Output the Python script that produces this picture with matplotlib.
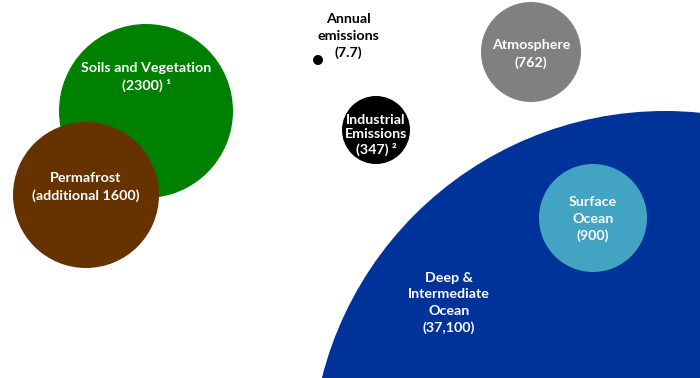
import matplotlib
matplotlib.use("Agg")
import matplotlib.pyplot as plt
from matplotlib.patches import Circle

plt.rcParams['font.family'] = ['Lato', 'DejaVu Sans']

# Data
names = ["Soils and Vegetation", "Permafrost", "Annual emissions", "Industrial Emissions",
         "Atmosphere", "Deep & Intermediate Ocean", "Surface Ocean"]
values = ["2300", "additional 1600", "7.7", "347", "762", "37,100", "900"]
labels = [
    "Soils and Vegetation\n(2300) \u00b9",
    "Permafrost\n(additional 1600)",
    "Annual\nemissions\n(7.7)",
    "Industrial\nEmissions\n(347) \u00b2",
    "Atmosphere\n(762)",
    "Deep &\nIntermediate\nOcean\n(37,100)",
    "Surface\nOcean\n(900)",
]

# Layout (pixel coordinates, y down)
centers = [(146, 111), (86, 195), (318, 60), (376, 130), (531, 52), (665, 465), (593, 218)]
radii = [87, 73, 5, 34, 50, 354, 54]
colors = ["#008000", "#663300", "#000000", "#000000", "#808080", "#003399", "#42a3c3"]
text_pos = [(146, 77), (86, 187), (348, 36), (376, 135), (531, 54), (449, 303), (593, 219)]
text_colors = ["white", "white", "black", "white", "white", "white", "white"]
zorders = [1, 2, 3, 3, 3, 1, 2]
linesp = [1.45, 1.45, 1.45, 1.22, 1.45, 1.42, 1.45]

fig = plt.figure(figsize=(7, 3.78), dpi=100)
ax = fig.add_axes([0, 0, 1, 1])
ax.set_xlim(0, 700)
ax.set_ylim(378, 0)
ax.set_aspect('equal')
ax.axis('off')

for (c, r, col, z) in zip(centers, radii, colors, zorders):
    ax.add_patch(Circle(c, r, facecolor=col, edgecolor='none', zorder=z))

for lab, (tx, ty), tc, z, ls in zip(labels, text_pos, text_colors, zorders, linesp):
    ax.text(tx, ty, lab, ha='center', va='center', color=tc, fontsize=10.3,
            fontweight='bold', linespacing=ls, zorder=10)

fig.savefig("out.png", dpi=100)
